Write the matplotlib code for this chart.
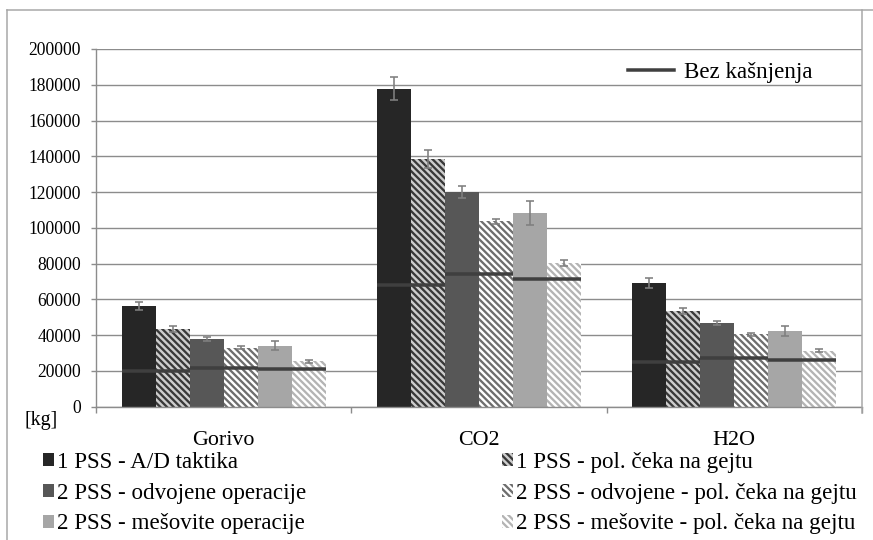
import numpy as np
import matplotlib
matplotlib.use('Agg')
import matplotlib.pyplot as plt
from matplotlib.lines import Line2D

# values [kg]
categories = ['Gorivo', 'CO2', 'H2O']
series_names = ['1 PSS - A/D taktika',
                '1 PSS - pol. čeka na gejtu',
                '2 PSS - odvojene operacije',
                '2 PSS - odvojene - pol. čeka na gejtu',
                '2 PSS - mešovite operacije',
                '2 PSS - mešovite - pol. čeka na gejtu']
ad_taktika = [56300, 177900, 69300]
ad_ceka = [43600, 138400, 53700]
odvojene = [38000, 120000, 46800]
odvojene_ceka = [32900, 103700, 40400]
mesovite = [34200, 108400, 42300]
mesovite_ceka = [25400, 80400, 31400]

err_ad_taktika = [2300, 6500, 2700]
err_ad_ceka = [1700, 5000, 1600]
err_odvojene = [1100, 3400, 1300]
err_odvojene_ceka = [800, 1500, 750]
err_mesovite = [2300, 6800, 2700]
err_mesovite_ceka = [700, 1900, 900]

# "Bez kasnjenja" reference levels (one per pair of bars)
bez_1pss = [20100, 67800, 25000]
bez_odvojene = [21600, 74200, 27300]
bez_mesovite = [21100, 71200, 26300]

yticks = list(range(0, 200001, 20000))

DPI = 80
W, H = 873, 540


def px(p):
    # pixels -> points at this dpi
    return p * 72 / DPI


plt.rcParams['font.family'] = ['Liberation Serif', 'DejaVu Serif']
plt.rcParams['hatch.linewidth'] = px(2.3)

fig = plt.figure(figsize=(W / DPI, H / DPI), dpi=DPI)
ax = fig.add_axes([96 / W, 1 - 406.7 / H, (862 - 96) / W, (406.7 - 49) / H])

values = [ad_taktika, ad_ceka, odvojene, odvojene_ceka, mesovite, mesovite_ceka]
errors = [err_ad_taktika, err_ad_ceka, err_odvojene, err_odvojene_ceka,
          err_mesovite, err_mesovite_ceka]
faces = ['#262626', '#cdcdcd', '#575757', 'white', '#a6a6a6', 'white']
edges = ['#262626', '#383838', '#575757', '#6e6e6e', '#a6a6a6', '#b4b4b4']
diag = chr(92) * 4  # wide downward diagonal
hatches = [None, diag, None, diag, None, diag]

x = np.arange(len(categories))
bw = 0.8 / 6
handles = []
for i in range(6):
    pos = x + (i - 2.5) * bw
    b = ax.bar(pos, values[i], bw, color=faces[i], edgecolor=edges[i],
               hatch=hatches[i], linewidth=0, zorder=2, label=series_names[i])
    ax.errorbar(pos, values[i], yerr=errors[i], fmt='none', ecolor='#7f7f7f',
                elinewidth=px(1.6), capsize=px(4), capthick=px(1.6), zorder=4)
    handles.append(b)

# no-delay lines, each covering two bars
for j, lvl in enumerate([bez_1pss, bez_odvojene, bez_mesovite]):
    left = x + (2 * j - 3) * bw
    ax.hlines(lvl, left, left + 2 * bw, colors='#3f3f3f', linewidth=px(3.5), zorder=5)

ax.set_xlim(-0.5, 2.5)
ax.set_ylim(0, 200000)
ax.set_yticks(yticks)
ax.set_yticklabels([str(v) for v in yticks])
ax.yaxis.grid(True, color='#8c8c8c', linewidth=px(1.4), zorder=0)
ax.set_axisbelow(True)

ax.set_xticks([-0.5, 0.5, 1.5, 2.5])
ax.set_xticklabels([])
ax.set_xticks(x, minor=True)
ax.set_xticklabels(categories, minor=True, fontsize=px(22))
ax.tick_params(axis='x', which='major', direction='out', length=px(6),
               width=px(1.4), color='#8c8c8c')
ax.tick_params(axis='x', which='minor', length=0, pad=px(24))
ax.tick_params(axis='y', direction='out', length=px(5), width=px(1.4),
               color='#8c8c8c', labelsize=px(17.5), pad=px(10))

for s in ['top', 'right']:
    ax.spines[s].set_visible(False)
for s in ['left', 'bottom']:
    ax.spines[s].set_color('#8c8c8c')
    ax.spines[s].set_linewidth(px(1.4))

fig.text(41 / W, 1 - 421 / H, '[kg]', fontsize=px(20), ha='center', va='center')

# legend line inside plot
bez_handle = Line2D([], [], color='#3f3f3f', linewidth=px(3.5))
ax.legend([bez_handle], ['Bez kašnjenja'], loc='center left',
          bbox_to_anchor=(628 / W, 1 - 72 / H), bbox_transform=fig.transFigure,
          frameon=False, fontsize=px(23), handlelength=2.0, handletextpad=0.45,
          borderpad=0, borderaxespad=0)

# bottom legend, two columns
leg_kw = dict(loc='upper left', frameon=False, fontsize=px(23), handlelength=0.48,
              handleheight=0.48, handletextpad=0.15, borderpad=0, borderaxespad=0,
              labelspacing=0.42)
fig.legend(handles[0::2], series_names[0::2], bbox_to_anchor=(43 / W, 1 - 452 / H), **leg_kw)
fig.legend(handles[1::2], series_names[1::2], bbox_to_anchor=(502 / W, 1 - 452 / H), **leg_kw)

# outer chart border
bc = '#a6a6a6'
fig.add_artist(Line2D([7 / W, 7 / W], [0, 1 - 10 / H], color=bc, linewidth=px(1.5)))
fig.add_artist(Line2D([7 / W, 1], [1 - 10 / H, 1 - 10 / H], color=bc, linewidth=px(1.5)))
fig.add_artist(Line2D([862 / W, 862 / W], [1 - 10 / H, 1 - 413 / H], color=bc, linewidth=px(1.5)))

fig.savefig('out.png', dpi=DPI)
